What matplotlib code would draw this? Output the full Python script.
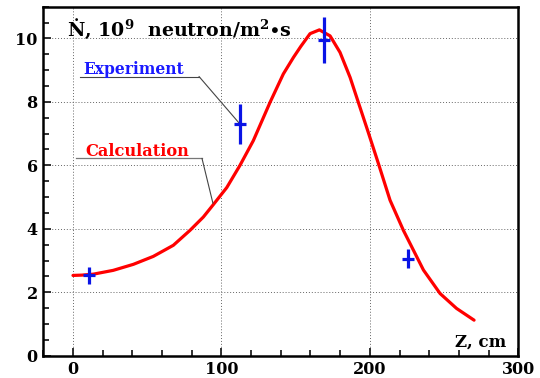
import matplotlib
matplotlib.use("Agg")
import matplotlib.pyplot as plt
from matplotlib.ticker import MultipleLocator

# calculation curve
calc_z = [0, 6, 13.7, 27.1, 40.7, 54.1, 67.6, 78.8, 87.8, 94.5, 103.6, 112.5,
          121.5, 132.8, 141.7, 148.5, 153.5, 159.7, 166, 173.2, 179.9, 186.7,
          192.2, 198.5, 205.8, 213.6, 222.6, 236.1, 247.3, 258.4, 270.2]
calc_n = [2.53, 2.54, 2.57, 2.69, 2.88, 3.13, 3.48, 3.95, 4.37, 4.76, 5.3, 6.0,
          6.78, 7.99, 8.88, 9.4, 9.75, 10.15, 10.27, 10.08, 9.56, 8.77,
          7.99, 7.1, 6.05, 4.9, 3.95, 2.7, 1.96, 1.49, 1.12]

# experimental points with errors
exp_z = [10.6, 112.5, 169.1, 225.5]
exp_n = [2.53, 7.3, 9.96, 3.05]
exp_zerr = [4, 4, 4, 4]
exp_nerr = [0.27, 0.62, 0.73, 0.3]

plt.rcParams["font.family"] = ["DejaVu Serif"]
plt.rcParams["font.weight"] = "bold"
plt.rcParams["mathtext.fontset"] = "custom"
plt.rcParams["mathtext.rm"] = "DejaVu Serif:bold"
plt.rcParams["mathtext.bf"] = "DejaVu Serif:bold"
plt.rcParams["mathtext.it"] = "DejaVu Serif:bold:italic"

fig = plt.figure(figsize=(5.4, 3.78), dpi=100)
ax = fig.add_axes([43.3 / 540, 22.3 / 378, 475 / 540, 349 / 378])

ax.plot(calc_z, calc_n, color="red", lw=2.3, solid_capstyle="round",
        solid_joinstyle="round", zorder=3)
ax.errorbar(exp_z, exp_n, xerr=exp_zerr, yerr=exp_nerr, fmt="none",
            ecolor="#0a14e6", elinewidth=2.3, capsize=0, zorder=4)

ax.set_xlim(-20, 300)
ax.set_ylim(0, 11)
ax.xaxis.set_major_locator(MultipleLocator(100))
ax.xaxis.set_minor_locator(MultipleLocator(20))
ax.yaxis.set_major_locator(MultipleLocator(2))
ax.yaxis.set_minor_locator(MultipleLocator(0.5))
ax.tick_params(which="both", direction="in", top=False, right=False,
               labelsize=11.5, width=1.3, color="#222222")
ax.tick_params(which="major", length=6, pad=4)
ax.tick_params(which="minor", length=4)
ax.grid(True, which="major", linestyle=(0, (1, 2)), color="#666666", lw=0.7)
for lab in ax.get_xticklabels() + ax.get_yticklabels():
    lab.set_fontweight("bold")
for sp in ax.spines.values():
    sp.set_linewidth(1.8)

# axis titles inside the frame
ax.text(-4.0, 10.08, "\u1e44, 10$^{9}$  neutron/m$^{2}$$\\bullet$s",
        fontsize=13.7, fontweight="bold", va="baseline", ha="left")
ax.text(257.4, 0.28, "Z, cm", fontsize=12, fontweight="bold",
        va="baseline", ha="left")

# labels with leader lines
ax.text(6.7, 8.89, "Experiment", color="#1a1aff", fontsize=11.2,
        fontweight="bold", va="baseline")
ax.plot([4.7, 84.9], [8.8, 8.8], color="#444444", lw=0.8)
ax.annotate("", xy=(exp_z[1], exp_n[1]), xytext=(84.9, 8.8),
            arrowprops=dict(arrowstyle="-", color="#444444", lw=0.8,
                            shrinkA=0, shrinkB=0))

ax.text(8.1, 6.29, "Calculation", color="red", fontsize=11.7,
        fontweight="bold", va="baseline")
ax.plot([2, 86.9], [6.22, 6.22], color="#777777", lw=0.9)
ax.annotate("", xy=(94.3, 4.8), xytext=(86.9, 6.22),
            arrowprops=dict(arrowstyle="-", color="#444444", lw=0.8,
                            shrinkA=0, shrinkB=0))

fig.savefig("out.png", dpi=100)
